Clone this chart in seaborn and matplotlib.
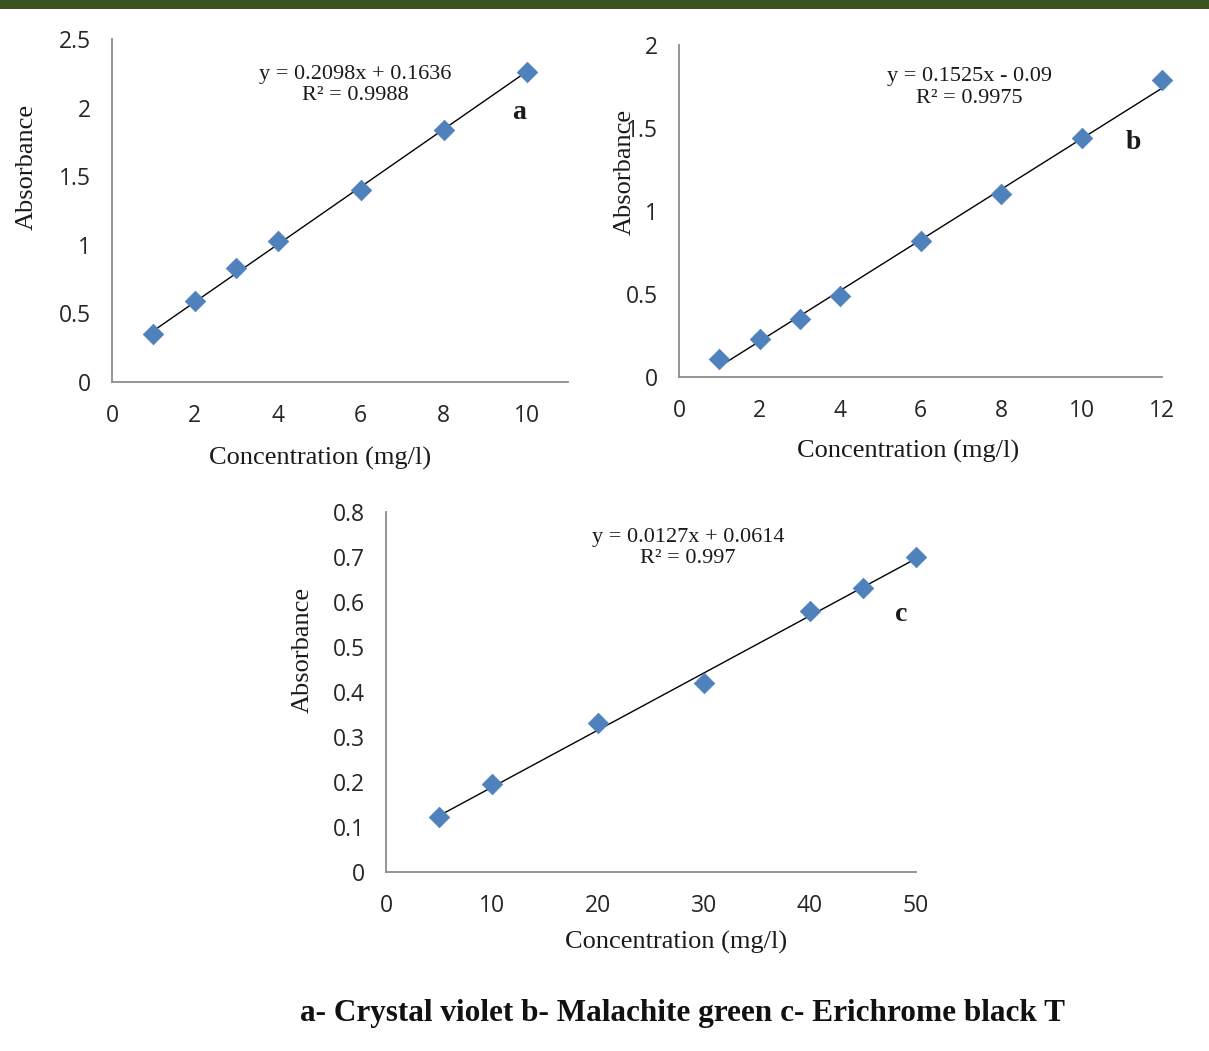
import numpy as np
import pandas as pd
import matplotlib
matplotlib.use("Agg")
import matplotlib.pyplot as plt
from matplotlib.patches import Rectangle
from matplotlib.ticker import FuncFormatter
import seaborn as sns

# a - Crystal violet
conc_a = [1, 2, 3, 4, 6, 8, 10]
abs_a = [0.35, 0.59, 0.83, 1.03, 1.40, 1.84, 2.26]
fit_a = (0.2098, 0.1636, 0.9988)

# b - Malachite green
conc_b = [1, 2, 3, 4, 6, 8, 10, 12]
abs_b = [0.11, 0.23, 0.35, 0.49, 0.82, 1.10, 1.44, 1.79]
fit_b = (0.1525, -0.09, 0.9975)

# c - Erichrome black T
conc_c = [5, 10, 20, 30, 40, 45, 50]
abs_c = [0.122, 0.196, 0.331, 0.42, 0.58, 0.631, 0.70]
fit_c = (0.0127, 0.0614, 0.997)

caption = "a- Crystal violet b- Malachite green c- Erichrome black T"

sns.set_style("white")
SANS = ["Open Sans", "DejaVu Sans"]
SERIF = ["Liberation Serif", "DejaVu Serif"]
plt.rcParams["font.family"] = SANS

MARKER_COLOR = "#4f81bd"
SPINE_COLOR = "#8c8c8c"

fig = plt.figure(figsize=(12.09, 10.51), dpi=100)
fig.patches.append(Rectangle((0, 1 - 9 / 1051), 1, 9 / 1051, transform=fig.transFigure,
                             facecolor="#3a5322", edgecolor="none", zorder=0))


def eq_text(slope, icpt, r2):
    if icpt < 0:
        return f"y = {slope:.4f}x - {abs(icpt):g}\nR² = {r2:g}"
    return f"y = {slope:.4f}x + {icpt:.4f}\nR² = {r2:g}"


def panel(rect, xs, ys, fit, xlim, xticks, ylim, yticks, letter,
          eq_pos, letter_pos, ylab_pos, xlab_pos):
    ax = fig.add_axes(rect)
    slope, icpt, r2 = fit
    df = pd.DataFrame({"conc": xs, "abs": ys})
    line_x = np.array([min(xs), max(xs)], dtype=float)
    line_df = pd.DataFrame({"conc": line_x, "abs": slope * line_x + icpt})
    sns.lineplot(data=line_df, x="conc", y="abs", ax=ax, color="black", lw=1.0, zorder=2)
    sns.scatterplot(data=df, x="conc", y="abs", ax=ax, marker="D", s=110,
                    color=MARKER_COLOR, edgecolor=MARKER_COLOR, linewidth=0.5,
                    zorder=3, clip_on=False)
    ax.set_xlim(*xlim)
    ax.set_ylim(*ylim)
    ax.set_xticks(xticks)
    ax.set_yticks(yticks)
    ax.xaxis.set_major_formatter(FuncFormatter(lambda v, p: f"{v:g}"))
    ax.yaxis.set_major_formatter(FuncFormatter(lambda v, p: f"{v:g}"))
    for s in ["top", "right"]:
        ax.spines[s].set_visible(False)
    for s in ["left", "bottom"]:
        ax.spines[s].set_color(SPINE_COLOR)
        ax.spines[s].set_linewidth(1.3)
    ax.tick_params(axis="both", direction="out", length=7, width=1.3, color=SPINE_COLOR,
                   labelsize=16.5, labelcolor="#262626")
    ax.tick_params(axis="x", pad=9)
    ax.tick_params(axis="y", pad=8)
    ax.set_xlabel("Concentration (mg/l)", family=SERIF, fontsize=19, color="#1a1a1a")
    ax.set_ylabel("Absorbance", family=SERIF, fontsize=19, color="#1a1a1a")
    ax.xaxis.label.set_va("center")
    ax.yaxis.label.set_va("center")
    ax.xaxis.set_label_coords(*xlab_pos)
    ax.yaxis.set_label_coords(*ylab_pos)
    ax.text(*eq_pos, eq_text(slope, icpt, r2), transform=ax.transAxes, ha="center",
            va="center", family=SERIF, fontsize=16, color="#1a1a1a", linespacing=1.2)
    ax.text(*letter_pos, letter, transform=ax.transAxes, ha="center", va="center",
            family=SERIF, fontsize=20, fontweight="bold", color="#1a1a1a")
    ax.patch.set_alpha(0)
    return ax


panel([112 / 1209, 1 - 382 / 1051, 456 / 1209, 343 / 1051], conc_a, abs_a, fit_a,
      (0, 11), range(0, 11, 2), (0, 2.5), np.arange(0, 2.51, 0.5), "a",
      (0.533, 0.866), (0.893, 0.787), (-0.186, 0.627), (0.456, -0.224))

panel([679 / 1209, 1 - 377 / 1051, 483 / 1209, 332 / 1051], conc_b, abs_b, fit_b,
      (0, 12), range(0, 13, 2), (0, 2), np.arange(0, 2.01, 0.5), "b",
      (0.602, 0.873), (0.94, 0.705), (-0.112, 0.617), (0.474, -0.223))

panel([386 / 1209, 1 - 872 / 1051, 530 / 1209, 360 / 1051], conc_c, abs_c, fit_c,
      (0, 50), range(0, 51, 10), (0, 0.8), np.arange(0, 0.81, 0.1), "c",
      (0.570, 0.90), (0.972, 0.714), (-0.157, 0.617), (0.547, -0.197))

fig.text(682 / 1209, 1 - 1013 / 1051, caption, ha="center", va="center",
         family=SERIF, fontsize=22.5, fontweight="bold", color="#111111")

fig.savefig("out.png", dpi=100, facecolor="white")
